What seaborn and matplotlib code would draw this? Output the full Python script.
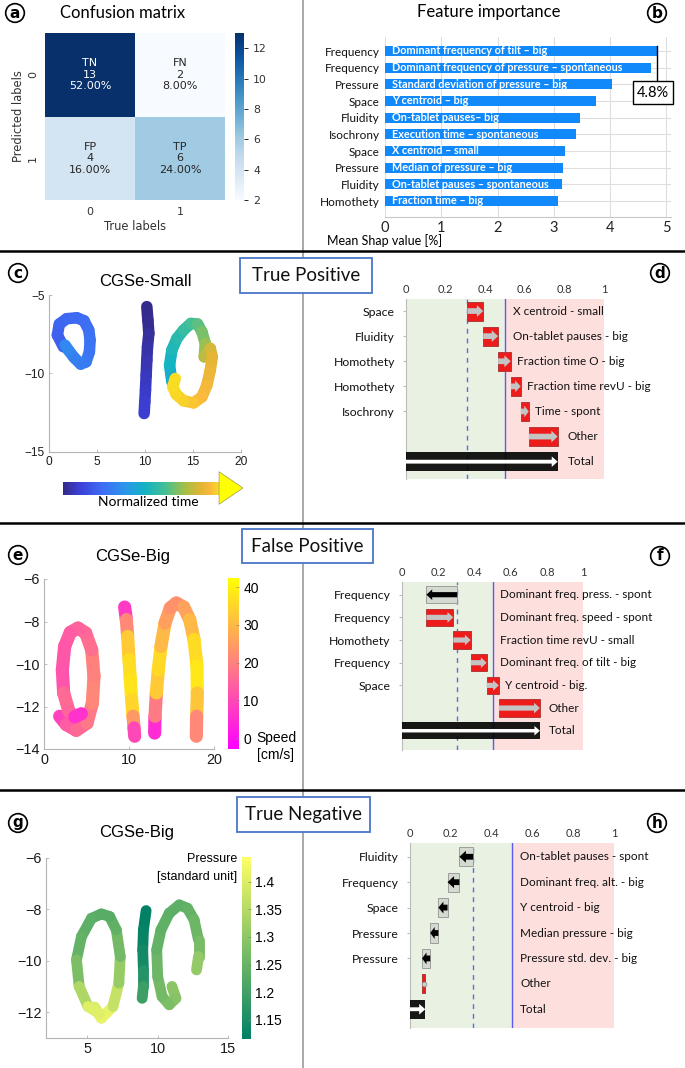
import numpy as np
import pandas as pd
import matplotlib
matplotlib.use("Agg")
import matplotlib.pyplot as plt
import seaborn as sns
from matplotlib.collections import LineCollection
from matplotlib.colors import LinearSegmentedColormap, Normalize
from matplotlib.patches import Rectangle, FancyArrow, Polygon
from matplotlib.lines import Line2D
from matplotlib.cm import ScalarMappable

# ------------------------------------------------------------------ data
cm_values = [[13, 2], [4, 6]]
cm_names = [["TN", "FN"], ["FP", "TP"]]
cm_pcts = [["52.00%", "8.00%"], ["16.00%", "24.00%"]]
cm_ticks = ["0", "1"]

fi_groups = ["Frequency", "Frequency", "Pressure", "Space", "Fluidity",
             "Isochrony", "Space", "Pressure", "Fluidity", "Homothety"]
fi_features = ["Dominant frequency of tilt – big",
               "Dominant frequency of pressure – spontaneous",
               "Standard deviation of pressure – big",
               "Y centroid – big",
               "On-tablet pauses– big",
               "Execution time – spontaneous",
               "X centroid – small",
               "Median of pressure – big",
               "On-tablet pauses – spontaneous",
               "Fraction time – big"]
fi_values = [4.83, 4.73, 4.03, 3.75, 3.47, 3.40, 3.19, 3.17, 3.15, 3.07]

# waterfall panels (d: true positive, f: false positive, h: true negative)
tp_groups = ["Space", "Fluidity", "Homothety", "Homothety", "Isochrony"]
tp_features = ["X centroid - small", "On-tablet pauses - big", "Fraction time O - big",
               "Fraction time revU - big", "Time - spont", "Other"]
tp_base = 0.31
tp_contrib = [0.08, 0.075, 0.064, 0.05, 0.041, 0.146]

fp_groups = ["Frequency", "Frequency", "Homothety", "Frequency", "Space"]
fp_features = ["Dominant freq. press. - spont", "Dominant freq. speed - spont",
               "Fraction time revU - small", "Dominant freq. of tilt - big",
               "Y centroid - big.", "Other"]
fp_base = 0.306
fp_contrib = [-0.17, 0.148, 0.096, 0.088, 0.067, 0.226]

tn_groups = ["Fluidity", "Frequency", "Space", "Pressure", "Pressure"]
tn_features = ["On-tablet pauses - spont", "Dominant freq. alt. - big", "Y centroid - big",
               "Median pressure - big", "Pressure std. dev. - big", "Other"]
tn_base = 0.31
tn_contrib = [-0.068, -0.058, -0.045, -0.04, -0.04, 0.016]
threshold = 0.5

# handwriting trajectories: CGSe-Small coloured by normalized time
c_x = [[10.19, 10.30, 10.40, 10.26, 10.19, 10.12, 10.05, 9.98, 9.91],
       [1.50, 0.87, 1.08, 1.84, 2.89, 3.65, 4.14, 4.28, 4.21, 3.86, 3.30, 2.61, 2.02, 1.67],
       [12.80, 12.56, 12.80, 13.32, 14.02, 14.78, 15.48, 15.93, 16.28, 16.17, 16.80, 17.01,
        16.80, 16.45, 15.93, 15.06, 14.02, 13.25, 12.90, 13.15]]
c_y = [[-5.74, -6.60, -7.45, -8.30, -9.15, -10.11, -11.06, -11.81, -12.55],
       [-8.30, -7.55, -6.85, -6.51, -6.45, -6.64, -7.23, -7.87, -8.62, -9.26, -9.40, -8.98, -8.51, -8.19],
       [-10.53, -9.47, -8.51, -7.77, -7.23, -6.81, -6.85, -7.34, -8.09, -8.94, -8.40, -8.94,
        -9.79, -10.74, -11.49, -11.87, -11.74, -11.32, -10.85, -10.32]]
c_t = [[0.0, 0.01, 0.02, 0.035, 0.05, 0.065, 0.08, 0.09, 0.10],
       [0.20, 0.21, 0.22, 0.23, 0.24, 0.25, 0.26, 0.27, 0.28, 0.29, 0.30, 0.31, 0.33, 0.36],
       [0.48, 0.51, 0.54, 0.57, 0.60, 0.63, 0.66, 0.70, 0.74, 0.78, 0.84, 0.87, 0.89, 0.91,
        0.93, 0.95, 0.97, 0.98, 0.99, 1.0]]

# CGSe-Big coloured by speed [cm/s]
e_x = [[1.84, 2.63, 3.80, 5.06, 5.69, 5.88, 5.61, 4.90, 4.00, 3.10, 2.43, 2.16, 2.31, 2.94, 3.61, 4.39],
       [9.49, 9.69, 9.84, 10.00, 10.16, 10.31, 10.47, 10.59, 10.67],
       [13.02, 13.06, 13.22, 13.45, 13.76, 14.24, 14.86, 15.57, 16.43, 17.14, 17.65, 18.00, 18.04, 17.96, 17.92]]
e_y = [[-12.46, -12.85, -13.12, -12.78, -11.84, -10.58, -9.33, -8.54, -8.31, -8.51, -9.17, -10.27, -11.36, -12.23, -12.49, -12.34],
       [-7.32, -7.91, -8.70, -9.80, -10.74, -11.68, -12.46, -13.01, -13.40],
       [-13.25, -12.46, -11.36, -10.27, -9.17, -8.07, -7.36, -7.13, -7.32, -7.91, -8.85, -10.11, -11.36, -12.46, -13.40]]
e_v = [[6, 12, 15, 17, 20, 22, 18, 16, 15, 14, 13, 12, 12, 20, 10, 2],
       [0, 15, 28, 38, 35, 40, 30, 18, 2],
       [0, 10, 28, 38, 33, 27, 24, 22, 24, 28, 32, 40, 36, 28, 15]]

# CGSe-Big coloured by pressure [standard unit]
g_x = [[5.54, 6.01, 6.83, 7.25, 7.35, 7.07, 6.60, 6.01, 5.31, 4.60, 4.25, 4.44, 5.07, 5.89],
       [9.18, 8.99, 8.94, 8.99, 8.99, 8.90],
       [11.01, 11.29, 10.82, 10.31, 10.00, 9.93, 10.23, 10.82, 11.53, 12.11, 12.58, 12.89, 12.89, 12.75]]
g_y = [[-11.79, -12.22, -11.77, -10.86, -9.83, -8.80, -8.28, -8.18, -8.35, -9.06, -9.96, -10.99, -11.77, -12.05],
       [-8.05, -8.80, -9.57, -10.35, -10.99, -11.45],
       [-10.99, -11.45, -11.70, -11.38, -10.61, -9.57, -8.80, -8.15, -7.83, -7.96, -8.41, -9.19, -9.83, -10.35]]
g_v = [[1.36, 1.43, 1.40, 1.34, 1.28, 1.25, 1.23, 1.23, 1.23, 1.24, 1.25, 1.30, 1.38, 1.43],
       [1.12, 1.12, 1.13, 1.15, 1.18, 1.21],
       [1.29, 1.30, 1.28, 1.27, 1.26, 1.25, 1.24, 1.24, 1.23, 1.24, 1.25, 1.26, 1.28, 1.33]]

# ------------------------------------------------------------------ figure
W, H = 685, 1068
fig = plt.figure(figsize=(W / 100, H / 100), dpi=100)
fig.patch.set_facecolor("white")
SANS = "Lato"
MAT = "Liberation Sans"


def add_ax(x0, y0, x1, y1):
    return fig.add_axes([x0 / W, 1 - y1 / H, (x1 - x0) / W, (y1 - y0) / H])


def ftext(x, y, s, **kw):
    return fig.text(x / W, 1 - y / H, s, **kw)


def badge(x, y, s):
    ftext(x, y, s, ha="center", va="center", fontsize=11, fontweight="bold",
          family="DejaVu Sans", zorder=10,
          bbox=dict(boxstyle="circle,pad=0.12", fc="white", ec="black", lw=1.2))


def case_box(x0, y0, x1, y1, s):
    fig.add_artist(Rectangle((x0 / W, 1 - y1 / H), (x1 - x0) / W, (y1 - y0) / H,
                             transform=fig.transFigure, fc="white", ec="#4a76c6",
                             lw=1.3, zorder=8))
    ftext((x0 + x1) / 2, (y0 + y1) / 2, s, ha="center", va="center", fontsize=13.5,
          family=SANS, color="#111111", zorder=9)


# separators
fig.add_artist(Line2D([303 / W] * 2, [0, 1], color="#9a9a9a", lw=1.2, zorder=1))
for yy in (251, 523, 790):
    fig.add_artist(Line2D([0, 1], [1 - yy / H] * 2, color="black", lw=1.8, zorder=2))

# ------------------------------------------------------------------ (a) confusion matrix
ax_a = add_ax(45, 33, 225, 200)
cax_a = add_ax(235, 33, 244, 200)
annot = np.array([[f"{cm_names[i][j]}\n{cm_values[i][j]}\n{cm_pcts[i][j]}" for j in range(2)]
                  for i in range(2)])
sns.heatmap(np.array(cm_values), annot=annot, fmt="", cmap="Blues", ax=ax_a, cbar_ax=cax_a,
            xticklabels=cm_ticks, yticklabels=cm_ticks, annot_kws={"fontsize": 8})
ax_a.set_xlabel("True labels", fontsize=8.3, color="#333333", labelpad=2)
ax_a.set_ylabel("Predicted labels", fontsize=8.3, color="#333333", labelpad=2)
ax_a.tick_params(length=0, labelsize=8, labelcolor="#333333", pad=5)
ax_a.set_yticklabels(cm_ticks, rotation=90, va="center")
cax_a.set_yticks([2, 4, 6, 8, 10, 12])
cax_a.tick_params(labelsize=7.8, length=3, width=0.6, labelcolor="#333333")
ftext(123, 13, "Confusion matrix", ha="center", va="center", fontsize=12, family=SANS)
badge(15, 13, "a")

# ------------------------------------------------------------------ (b) feature importance
ax_b = add_ax(385, 37, 671, 217)
df_b = pd.DataFrame({"feature": fi_features, "value": fi_values, "group": fi_groups})
sns.barplot(data=df_b, x="value", y="feature", color="#1189fb", saturation=1,
            width=0.6, ax=ax_b, zorder=2)
ax_b.set_xlim(0, 5.08)
ax_b.set_ylim(9.96, -0.84)
ax_b.set_xlabel("")
ax_b.set_ylabel("")
ax_b.set_yticks(range(len(fi_groups)))
ax_b.set_yticklabels(fi_groups)
ax_b.set_xticks([0, 1, 2, 3, 4, 5])
ax_b.grid(True, color="#dedede", lw=0.8, zorder=0)
ax_b.set_axisbelow(True)
for s in ("top", "right", "left"):
    ax_b.spines[s].set_visible(False)
ax_b.spines["bottom"].set_color("#c8c8c8")
ax_b.tick_params(axis="y", length=0, labelsize=8.5, pad=4, labelfontfamily=SANS,
                 labelcolor="#111111")
ax_b.tick_params(axis="x", length=0, labelsize=10.5, pad=3, labelfontfamily=SANS,
                 labelcolor="#222222")
for i, f in enumerate(fi_features):
    ax_b.text(0.12, i, f, color="white", fontweight="bold", fontsize=7.8, va="center",
              ha="left", family=SANS, zorder=3)
ax_b.plot([fi_values[0]] * 2, [-0.3, 1.72], color="black", lw=1, zorder=4, clip_on=False)
ax_b.text(4.76, 2.5, f"{fi_values[0]:.1f}%", ha="center", va="center", fontsize=10.5,
          family=SANS, zorder=5,
          bbox=dict(boxstyle="square,pad=0.3", fc="white", ec="black", lw=1))
ftext(327, 241, "Mean Shap value [%]", ha="left", va="center", fontsize=9, family=SANS)
ftext(489, 12, "Feature importance", ha="center", va="center", fontsize=12, family=SANS)
badge(657, 13, "b")


# ------------------------------------------------------------------ helpers
def matlab_axes(ax, xlim, ylim, xt, yt, fs):
    ax.set_xlim(*xlim)
    ax.set_ylim(*ylim)
    ax.set_xticks(xt)
    ax.set_yticks(yt)
    for s in ("top", "right"):
        ax.spines[s].set_visible(False)
    for s in ("left", "bottom"):
        ax.spines[s].set_color("#b4b4b4")
        ax.spines[s].set_linewidth(0.8)
    ax.tick_params(direction="in", length=2.5, width=0.6, color="#b4b4b4", labelsize=fs,
                   labelcolor="#1a1a1a", labelfontfamily=MAT, pad=3)


def draw_strokes(ax, xs, ys, vs, cmap, norm, lw):
    for x, y, v in zip(xs, ys, vs):
        pts = np.column_stack([x, y])
        segs = np.stack([pts[:-1], pts[1:]], axis=1)
        v = np.asarray(v, float)
        vals = 0.5 * (v[:-1] + v[1:])
        lc = LineCollection(segs, cmap=cmap, norm=norm, linewidths=lw,
                            capstyle="round", joinstyle="round", zorder=3)
        lc.set_array(vals)
        ax.add_collection(lc)


GREEN = "#e9f1e2"
PINK = "#fde0de"


def waterfall(ax, groups, feats, base, contrib, thr, ylim):
    contrib = np.asarray(contrib, float)
    ends = base + np.cumsum(contrib)
    starts = np.concatenate([[base], ends[:-1]])
    total = ends[-1]
    n = len(contrib)
    h = 0.76
    ax.set_xlim(0, 1)
    ax.set_ylim(*ylim)
    ax.axvspan(0, thr, color=GREEN, zorder=0, lw=0)
    ax.axvspan(thr, 1, color=PINK, zorder=0, lw=0)
    ax.axvline(thr, color="#5b5bf0", lw=1.0, zorder=1)
    ax.axvline(base, color="#5a6ee0", lw=1.0, ls=(0, (3.5, 3.5)), zorder=1)
    for i in range(n):
        s, e = starts[i], ends[i]
        lo, hi = min(s, e), max(s, e)
        pos = contrib[i] > 0
        ax.add_patch(Rectangle((lo, i - h / 2), hi - lo, h,
                               fc="#ee1b1b" if pos else "#d4dacf",
                               ec="#b13a3a" if pos else "#9c9c9c", lw=0.7, zorder=3))
        L = hi - lo
        if L < 0.02:
            ax.plot([(lo + hi) / 2], [i], "o", ms=3.5, mfc="#cfcfcf", mec="#8a8a8a",
                    mew=0.5, zorder=4)
        else:
            hl = min(0.032, 0.55 * L)
            ax.add_patch(FancyArrow(s, i, e - s, 0, width=h * 0.3, head_width=h * 0.62,
                                    head_length=hl, length_includes_head=True,
                                    fc="#c4c4c4" if pos else "black", ec="none", zorder=4))
    ax.add_patch(Rectangle((0, n - h / 2), total, h, fc="black", alpha=0.9, lw=0, zorder=3))
    ax.add_patch(FancyArrow(0, n, total, 0, width=h * 0.2, head_width=h * 0.55,
                            head_length=0.03, length_includes_head=True, fc="white",
                            ec="none", zorder=4))
    labels = list(feats) + ["Total"]
    for i, lab in enumerate(labels):
        right = max(starts[i], ends[i]) if i < n else total
        off = 0.05 if i >= n - 1 else 0.032
        ax.text(max(right + off, 0.54), i, lab, ha="left", va="center", fontsize=8.5,
                family=SANS, color="#111111", clip_on=False, zorder=5)
    ax.xaxis.tick_top()
    ax.set_xticks([0, 0.2, 0.4, 0.6, 0.8, 1.0])
    ax.set_xticklabels(["0", "0.2", "0.4", "0.6", "0.8", "1"])
    ax.tick_params(axis="x", length=0, labelsize=8, labelcolor="#333333", pad=3,
                   labelfontfamily=SANS)
    ax.set_yticks(range(len(groups)))
    ax.set_yticklabels(groups)
    ax.tick_params(axis="y", length=2, color="#bbbbbb", labelsize=8.8, pad=6,
                   labelfontfamily=SANS, labelcolor="#111111")
    for sp in ax.spines.values():
        sp.set_visible(False)
    ax.spines["left"].set_visible(True)
    ax.spines["left"].set_color("#bbbbbb")


# ------------------------------------------------------------------ (c) CGSe-Small
parula = LinearSegmentedColormap.from_list(
    "parula_like",
    [(0.0, "#352a87"), (0.1, "#3b3fd6"), (0.25, "#3e6df5"), (0.4, "#2a98ea"),
     (0.52, "#13b3c5"), (0.65, "#45bf95"), (0.78, "#a6c046"), (0.88, "#e4b535"),
     (0.94, "#fbb93c"), (1.0, "#f8e020")])
ax_c = add_ax(49, 295, 241, 452)
matlab_axes(ax_c, (0, 20), (-15, -5), [0, 5, 10, 15, 20], [-15, -10, -5], 8.6)
draw_strokes(ax_c, c_x, c_y, c_t, parula, Normalize(0, 1), 8.3)
ftext(145, 282, "CGSe-Small", ha="center", va="center", fontsize=12, family=MAT)
badge(18, 273, "c")

ax_arr = add_ax(63, 471, 243, 505)
ax_arr.set_xlim(0, 1)
ax_arr.set_ylim(0, 1)
ax_arr.axis("off")
ax_arr.imshow(np.linspace(0, 1, 256)[None, :], aspect="auto", cmap=parula,
              extent=(0, 0.867, 0.294, 0.668), zorder=1)
ax_arr.add_patch(Polygon([(0.867, 0.02), (0.867, 0.98), (1.0, 0.5)], closed=True,
                         fc="#ffff00", ec="#9a9a60", lw=0.5, zorder=2))
ftext(148, 502, "Normalized time", ha="center", va="center", fontsize=10, family=SANS)

# ------------------------------------------------------------------ (d) true positive
case_box(240, 258, 372, 293, "True Positive")
ax_d = add_ax(406, 299, 604, 479)
waterfall(ax_d, tp_groups, tp_features, tp_base, tp_contrib, threshold, (6.69, -0.48))
badge(660, 273, "d")

# ------------------------------------------------------------------ (e) CGSe-Big, speed
ax_e = add_ax(44, 579, 214, 749)
matlab_axes(ax_e, (0, 20), (-14, -6), [0, 10, 20], [-14, -12, -10, -8, -6], 10.4)
norm_e = Normalize(-2.9, 42.4)
draw_strokes(ax_e, e_x, e_y, e_v, plt.get_cmap("spring"), norm_e, 9.5)
cax_e = add_ax(228, 578, 239, 749)
cb_e = fig.colorbar(ScalarMappable(norm=norm_e, cmap="spring"), cax=cax_e,
                    ticks=[0, 10, 20, 30, 40])
cb_e.outline.set_visible(False)
cax_e.tick_params(direction="in", length=2, width=0.5, color="#888888", labelsize=10,
                  labelfontfamily=MAT, pad=3)
ftext(256, 738, "Speed", ha="left", va="center", fontsize=10, family=MAT)
ftext(257, 755, "[cm/s]", ha="left", va="center", fontsize=10, family=MAT)
ftext(133, 557, "CGSe-Big", ha="center", va="center", fontsize=12, family=MAT)
badge(18, 555, "e")

# ------------------------------------------------------------------ (f) false positive
case_box(242, 529, 373, 563, "False Positive")
ax_f = add_ax(401.7, 582, 583.3, 750)
waterfall(ax_f, fp_groups, fp_features, fp_base, fp_contrib, threshold, (6.85, -0.56))
badge(660, 556, "f")

# ------------------------------------------------------------------ (g) CGSe-Big, pressure
ax_g = add_ax(45.7, 857.7, 228.3, 1038.3)
matlab_axes(ax_g, (2.07, 15), (-13, -6), [5, 10, 15], [-12, -10, -8, -6], 10.4)
norm_g = Normalize(1.115, 1.445)
draw_strokes(ax_g, g_x, g_y, g_v, plt.get_cmap("summer"), norm_g, 7.8)
cax_g = add_ax(241.5, 856.7, 250.5, 1039.3)
cb_g = fig.colorbar(ScalarMappable(norm=norm_g, cmap="summer"), cax=cax_g,
                    ticks=[1.15, 1.2, 1.25, 1.3, 1.35, 1.4])
cb_g.ax.set_yticklabels(["1.15", "1.2", "1.25", "1.3", "1.35", "1.4"])
cb_g.outline.set_visible(False)
cax_g.tick_params(direction="in", length=2, width=0.5, color="#888888", labelsize=10,
                  labelfontfamily=MAT, pad=3)
ftext(237, 859, "Pressure", ha="right", va="center", fontsize=9, family=MAT)
ftext(237, 877, "[standard unit]", ha="right", va="center", fontsize=9, family=MAT)
ftext(137, 833, "CGSe-Big", ha="center", va="center", fontsize=12, family=MAT)
badge(18, 823, "g")

# ------------------------------------------------------------------ (h) true negative
case_box(236.7, 797, 370, 832, "True Negative")
ax_h = add_ax(410, 843.3, 614, 1028.3)
waterfall(ax_h, tn_groups, tn_features, tn_base, tn_contrib, threshold, (6.75, -0.53))
badge(657, 823, "h")

fig.savefig("out.png", dpi=100, facecolor="white")
